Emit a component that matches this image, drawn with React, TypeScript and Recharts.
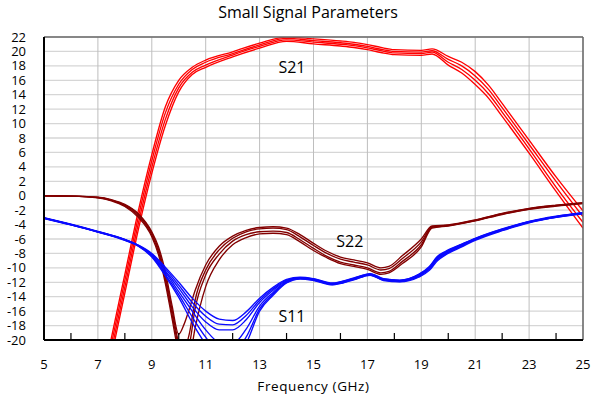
import { LineChart, Line, XAxis, YAxis, CartesianGrid, ReferenceLine, ReferenceDot } from 'recharts';

// frequency ticks (GHz); only the odd ones carry labels and grid lines
const X_TICKS = [5, 6, 7, 8, 9, 10, 11, 12, 13, 14, 15, 16, 17, 18, 19, 20, 21, 22, 23, 24, 25];
const X_LABELED = [5, 7, 9, 11, 13, 15, 17, 19, 21, 23, 25];
const Y_TICKS = [-20, -18, -16, -14, -12, -10, -8, -6, -4, -2, 0, 2, 4, 6, 8, 10, 12, 14, 16, 18, 20, 22];
const X_DOMAIN = [5, 25];

// S21 (gain) traces
const S21_FREQ = [7, 7.5, 8, 8.5, 9, 9.5, 10, 10.5, 11, 12, 13, 14, 15, 16, 16.5, 17, 17.5, 18, 19, 19.4, 20, 20.5, 21, 21.5, 22, 23, 24, 25];
const S21_A = [-28.7, -19.7, -10.9, -2.1, 5.7, 12.3, 16.0, 17.8, 18.8, 19.95, 21.15, 22.0, 21.75, 21.45, 21.25, 20.95, 20.55, 20.25, 20.15, 20.35, 19.3, 18.5, 17.2, 15.3, 12.8, 7.7, 2.6, -2.1];
const S21_B = [-29.55, -20.55, -11.75, -2.95, 4.85, 11.45, 15.45, 17.5, 18.5, 19.7, 20.9, 21.8, 21.5, 21.2, 21.0, 20.7, 20.3, 20.0, 19.9, 20.1, 18.9, 18.0, 16.6, 14.7, 12.2, 7.1, 2.0, -2.9];
const S21_C = [-30.45, -21.45, -12.65, -3.85, 3.95, 10.55, 14.95, 17.1, 18.1, 19.5, 20.7, 21.6, 21.3, 21.0, 20.8, 20.5, 20.1, 19.8, 19.7, 19.9, 18.5, 17.5, 16.0, 14.1, 11.6, 6.5, 1.2, -3.7];
const S21_D = [-31.3, -22.3, -13.5, -4.7, 3.1, 9.7, 14.4, 16.8, 17.8, 19.25, 20.45, 21.4, 21.05, 20.75, 20.55, 20.25, 19.85, 19.55, 19.45, 19.65, 18.1, 17.0, 15.4, 13.5, 11.0, 5.9, 0.6, -4.5];

// S22 (output match) traces
const S22_FREQ = [5, 6, 7, 7.5, 8, 8.5, 9, 9.25, 9.5, 9.75, 10, 10.2, 10.4, 10.6, 11, 11.5, 12, 12.5, 13, 13.5, 14, 14.5, 15, 15.5, 16, 16.5, 17, 17.5, 17.8, 18.3, 19, 19.4, 20, 21, 22, 23, 24, 25];
const S22_A = [0, -0.05, -0.2, -0.55, -1.2, -2.5, -5.0, -7.1, -10.5, -15.2, -19.2, -17.8, -15.6, -13.2, -9.6, -7.0, -5.6, -4.8, -4.4, -4.3, -4.5, -5.4, -6.6, -7.7, -8.5, -8.9, -9.3, -10.0, -9.8, -8.3, -6.0, -4.2, -4.05, -3.35, -2.45, -1.75, -1.3, -0.95];
const S22_B = [0, -0.05, -0.25, -0.6, -1.3, -2.6, -5.2, -7.45, -11.1, -15.8, -20.3, -21.2, -19.0, -14.6, -10.3, -7.5, -5.9, -5.0, -4.6, -4.5, -4.7, -5.7, -6.9, -8.0, -8.8, -9.2, -9.6, -10.3, -10.1, -8.7, -6.4, -4.3, -4.1, -3.4, -2.5, -1.8, -1.35, -1.0];
const S22_C = [0, -0.05, -0.25, -0.65, -1.4, -2.8, -5.45, -7.8, -11.6, -16.4, -21.0, -22.5, -20.6, -15.8, -11.0, -8.1, -6.3, -5.4, -5.0, -4.9, -5.1, -6.1, -7.3, -8.4, -9.2, -9.6, -10.0, -10.7, -10.5, -9.1, -6.8, -4.4, -4.15, -3.45, -2.55, -1.85, -1.4, -1.05];
const S22_D = [0, -0.05, -0.3, -0.7, -1.5, -3.0, -5.7, -8.2, -12.1, -17.0, -21.8, -23.5, -22.5, -18.5, -12.6, -8.9, -6.8, -5.8, -5.3, -5.2, -5.4, -6.4, -7.6, -8.6, -9.4, -9.8, -10.2, -10.9, -10.7, -9.4, -7.1, -4.5, -4.2, -3.5, -2.6, -1.9, -1.45, -1.1];

// S11 (input match) traces
const S11_FREQ = [5, 6, 7, 8, 8.5, 9, 9.5, 10, 10.5, 11, 11.5, 12, 12.5, 13, 13.5, 14, 14.5, 15, 15.7, 16.5, 17.1, 17.6, 18.2, 18.9, 19.3, 19.6, 19.9, 20.5, 21, 22, 23, 24, 25];
const S11_1 = [-3.05, -3.95, -4.95, -6.05, -6.85, -8.0, -9.9, -12.0, -14.2, -16.0, -17.1, -17.3, -16.1, -14.2, -12.7, -11.6, -11.3, -11.5, -12.1, -11.4, -10.8, -11.5, -11.7, -10.9, -9.8, -8.4, -7.7, -6.7, -5.9, -4.6, -3.55, -2.85, -2.35];
const S11_2 = [-3.07, -3.97, -4.97, -6.08, -6.88, -8.1, -10.1, -12.4, -14.8, -16.7, -17.8, -17.9, -16.6, -14.5, -12.9, -11.7, -11.35, -11.55, -12.15, -11.45, -10.85, -11.55, -11.75, -10.95, -9.9, -8.5, -7.8, -6.75, -5.95, -4.65, -3.6, -2.9, -2.4];
const S11_3 = [-3.1, -4.0, -5.0, -6.1, -6.9, -8.2, -10.4, -12.8, -15.4, -17.5, -18.6, -18.6, -17.2, -14.8, -13.1, -11.8, -11.4, -11.6, -12.2, -11.5, -10.9, -11.6, -11.8, -11.0, -10.0, -8.6, -7.9, -6.8, -6.0, -4.7, -3.6, -2.9, -2.4];
const S11_4 = [-3.1, -4.0, -5.0, -6.12, -6.93, -8.3, -10.6, -13.3, -16.0, -18.6, -20.3, -20.5, -18.5, -15.3, -13.4, -11.9, -11.45, -11.65, -12.25, -11.55, -10.95, -11.65, -11.85, -11.1, -10.1, -8.7, -8.0, -6.9, -6.05, -4.75, -3.65, -2.95, -2.45];
const S11_5 = [-3.12, -4.03, -5.03, -6.15, -6.96, -8.4, -10.9, -13.7, -16.8, -19.6, -21.6, -21.8, -19.6, -15.7, -13.6, -12.0, -11.5, -11.7, -12.3, -11.6, -11.0, -11.7, -11.9, -11.2, -10.2, -8.85, -8.1, -7.0, -6.1, -4.8, -3.7, -3.0, -2.45];
const S11_6 = [-3.15, -4.05, -5.05, -6.2, -7.0, -8.5, -11.1, -14.1, -17.6, -20.6, -23.0, -23.0, -20.5, -16.0, -13.8, -12.1, -11.55, -11.75, -12.35, -11.65, -11.05, -11.75, -11.95, -11.3, -10.35, -9.0, -8.2, -7.1, -6.2, -4.85, -3.75, -3.0, -2.5];

const pts = (fs: number[], vs: number[]) => fs.map((f, i) => ({ f, v: vs[i] }));

const RED = '#ff0000';
const DARK_RED = '#820000';
const BLUE = '#0a0aff';

const series = [
  ...[S21_A, S21_B, S21_C, S21_D].map((v) => ({ data: pts(S21_FREQ, v), color: RED })),
  ...[S22_A, S22_B, S22_C, S22_D].map((v) => ({ data: pts(S22_FREQ, v), color: DARK_RED })),
  ...[S11_1, S11_2, S11_3, S11_4, S11_5, S11_6].map((v) => ({ data: pts(S11_FREQ, v), color: BLUE })),
];

const TICK_GAP = 20;

const XTick = (props: any) => {
  const { x, y, payload } = props;
  const val = payload.value;
  const axisY = y - TICK_GAP;
  if (X_LABELED.includes(val)) {
    return (
      <text x={x} y={y} dy="0.71em" textAnchor="middle" fontSize={13} fill="#000">
        {val}
      </text>
    );
  }
  return <line x1={x} x2={x} y1={axisY - 7} y2={axisY} stroke="#000" strokeWidth={1.2} />;
};

// vertical grid only at the labelled (odd) frequencies
const oddGrid = ({ offset }: any) =>
  X_LABELED.map((t) => offset.left + ((t - X_DOMAIN[0]) / (X_DOMAIN[1] - X_DOMAIN[0])) * offset.width);

export default function App() {
  return (
    <div style={{ position: 'absolute', left: 0, top: 0, width: 591, height: 400, fontFamily: '"Open Sans", sans-serif', background: '#fff' }}>
      <div style={{ position: 'absolute', left: 0, top: 0, width: 616, textAlign: 'center', fontSize: 16, lineHeight: '24px', color: '#000' }}>
        Small Signal Parameters
      </div>
      <LineChart width={591} height={400} margin={{ top: 37, right: 8, left: 0, bottom: 0 }}>
        <CartesianGrid vertical={false} stroke="#d6d6d6" strokeWidth={1.3} />
        <CartesianGrid horizontal={false} stroke="#bebebe" verticalCoordinatesGenerator={oddGrid} />
        <XAxis
          type="number"
          dataKey="f"
          domain={X_DOMAIN}
          ticks={X_TICKS}
          interval={0}
          allowDataOverflow
          height={60}
          tickSize={0}
          tickMargin={TICK_GAP}
          tickLine={false}
          axisLine={{ stroke: '#000', strokeWidth: 2 }}
          tick={<XTick />}
          label={{ value: 'Frequency (GHz)', position: 'insideBottom', offset: 9, fill: '#000', fontSize: 13.5, letterSpacing: 0.6 }}
        />
        <YAxis
          type="number"
          domain={[-20, 22]}
          ticks={Y_TICKS}
          interval={0}
          allowDataOverflow
          width={44}
          tickSize={6}
          tickMargin={12}
          tickLine={false}
          axisLine={{ stroke: '#000', strokeWidth: 2 }}
          tick={{ fill: '#000', fontSize: 13 }}
        />
        {series.map((s, i) => (
          <Line
            key={i}
            data={s.data}
            dataKey="v"
            type="monotone"
            stroke={s.color}
            strokeWidth={1.35}
            dot={false}
            activeDot={false}
            isAnimationActive={false}
          />
        ))}
        <ReferenceLine y={22} stroke="#6a6a6a" strokeWidth={1.5} />
        <ReferenceLine x={25} stroke="#6a6a6a" strokeWidth={1.5} />
        <ReferenceDot x={14.2} y={17.8} r={0} fill="none" stroke="none" label={{ value: 'S21', position: 'center', fill: '#000', fontSize: 16 }} />
        <ReferenceDot x={16.35} y={-6.3} r={0} fill="none" stroke="none" label={{ value: 'S22', position: 'center', fill: '#000', fontSize: 16 }} />
        <ReferenceDot x={14.2} y={-16.7} r={0} fill="none" stroke="none" label={{ value: 'S11', position: 'center', fill: '#000', fontSize: 16 }} />
      </LineChart>
    </div>
  );
}
